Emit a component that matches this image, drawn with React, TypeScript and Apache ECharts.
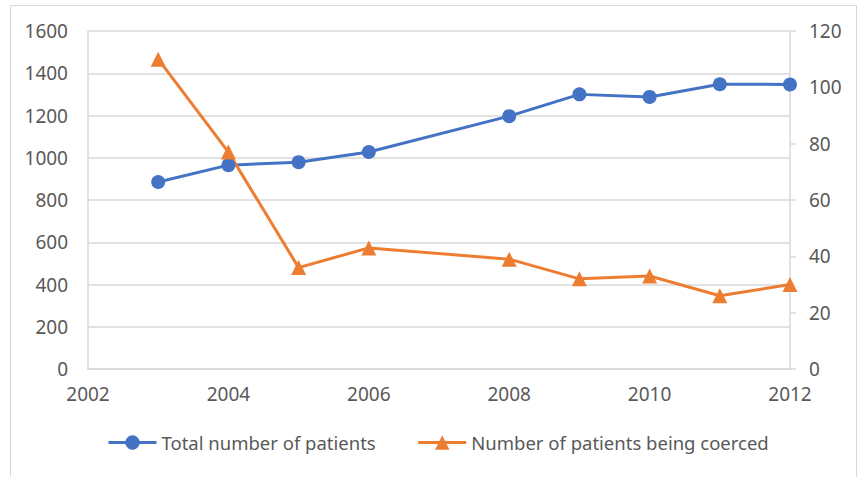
import React, { useEffect, useRef } from "react";
import * as echarts from "echarts";

const years = [2003, 2004, 2005, 2006, 2008, 2009, 2010, 2011, 2012];
const totalPatients = [885, 965, 979, 1027, 1197, 1300, 1288, 1348, 1347];
const coercedPatients = [110, 77, 36, 43, 39, 32, 33, 26, 30];
const seriesNames = ["Total number of patients", "Number of patients being coerced"];

const FONT = "Noto Sans";
const TEXT = "#595959";
const LINE = "#D9D9D9";
const plain = (v: number) => String(v);

export default function App() {
  const ref = useRef<HTMLDivElement>(null);
  useEffect(() => {
    if (!ref.current) return;
    const chart = echarts.init(ref.current, null, { renderer: "svg" });
    chart.setOption({
      animation: false,
      backgroundColor: "#fff",
      textStyle: { fontFamily: FONT },
      graphic: [
        {
          type: "rect",
          shape: { x: 10.5, y: 5.5, width: 846, height: 490 },
          style: { fill: "none", stroke: "#D9D9D9", lineWidth: 1 },
          silent: true,
        },
      ],
      legend: {
        bottom: 20,
        left: 102,
        itemWidth: 48,
        itemHeight: 18,
        itemGap: 41,
        lineStyle: { width: 3 },
        textStyle: { color: TEXT, fontSize: 18.5, fontFamily: FONT },
        data: [seriesNames[0], seriesNames[1]],
      },
      grid: { left: 88, right: 71, top: 31, bottom: 108 },
      xAxis: {
        type: "value",
        min: 2002,
        max: 2012,
        interval: 2,
        axisLine: { show: true, lineStyle: { color: LINE, width: 1.5 } },
        axisTick: { show: false },
        splitLine: { show: false },
        axisLabel: { color: TEXT, fontSize: 19, margin: 15, fontFamily: FONT, formatter: plain },
      },
      yAxis: [
        {
          type: "value",
          min: 0,
          max: 1600,
          interval: 200,
          axisLine: { show: true, lineStyle: { color: LINE, width: 1.5 } },
          axisTick: { show: false },
          splitLine: { show: true, lineStyle: { color: LINE, width: 1.5 } },
          axisLabel: { color: TEXT, fontSize: 19, margin: 20, fontFamily: FONT, formatter: plain },
        },
        {
          type: "value",
          min: 0,
          max: 120,
          interval: 20,
          position: "right",
          axisLine: { show: true, lineStyle: { color: LINE, width: 1.5 } },
          axisTick: { show: true, length: 6, lineStyle: { color: LINE, width: 1.5 } },
          splitLine: { show: false },
          axisLabel: { color: TEXT, fontSize: 19, margin: 19, fontFamily: FONT, formatter: plain },
        },
      ],
      series: [
        {
          name: seriesNames[0],
          type: "line",
          yAxisIndex: 0,
          data: years.map((y, i) => [y, totalPatients[i]]),
          symbol: "circle",
          symbolSize: 14,
          lineStyle: { color: "#4472C4", width: 3 },
          itemStyle: { color: "#4472C4" },
        },
        {
          name: seriesNames[1],
          type: "line",
          yAxisIndex: 1,
          data: years.map((y, i) => [y, coercedPatients[i]]),
          symbol: "triangle",
          symbolSize: 15,
          lineStyle: { color: "#ED7D31", width: 3 },
          itemStyle: { color: "#ED7D31" },
        },
      ],
    });
    return () => chart.dispose();
  }, []);
  return (
    <div
      ref={ref}
      style={{ position: "fixed", left: 0, top: 0, width: 861, height: 477 }}
    />
  );
}
